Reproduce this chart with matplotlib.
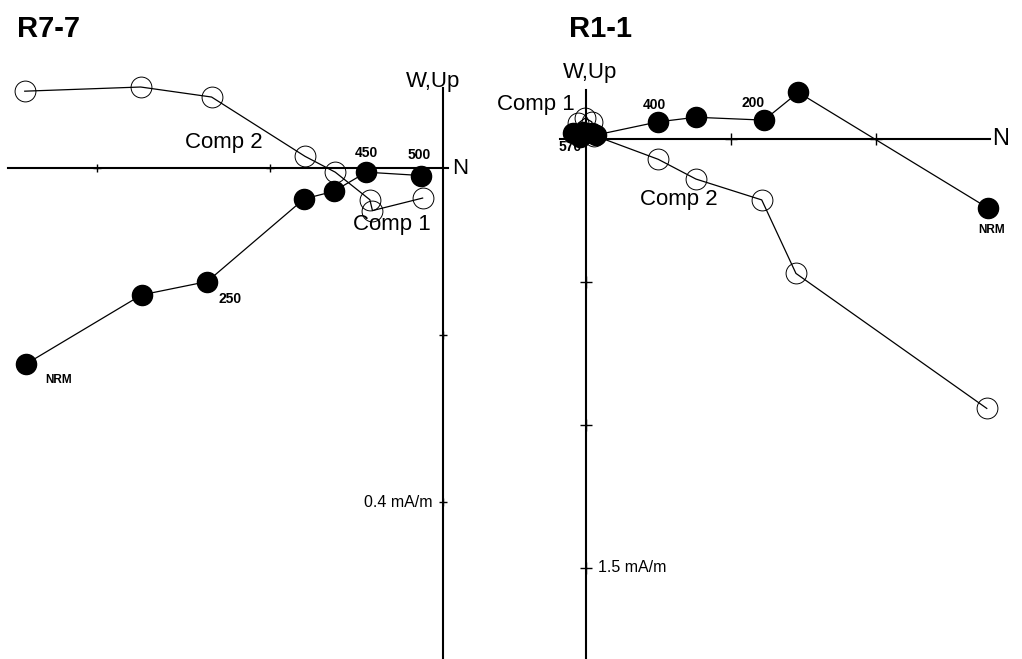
import matplotlib.pyplot as plt

plt.rcParams['font.family'] = ['Liberation Sans', 'DejaVu Sans']

# R7-7: orthogonal projections (mA/m), N on x, W / Up on y
r77_horiz_n = [-0.482, -0.348, -0.272, -0.160, -0.126, -0.088, -0.025]
r77_horiz_w = [-0.235, -0.152, -0.136, -0.037, -0.028, -0.005, -0.009]
r77_vert_n = [-0.483, -0.349, -0.267, -0.159, -0.124, -0.084, -0.081, -0.023]
r77_vert_up = [0.092, 0.097, 0.085, 0.014, -0.005, -0.038, -0.051, -0.036]
r77_steps = {0: 'NRM', 2: '250', 5: '450', 6: '500'}

# R1-1
r11_horiz_n = [1.388, 0.733, 0.615, 0.380, 0.250, 0.036, 0.021, -0.008, -0.020, -0.043]
r11_horiz_w = [-0.242, 0.163, 0.066, 0.076, 0.060, 0.014, 0.020, 0.026, 0.007, 0.020]
r11_vert_n = [1.383, 0.725, 0.607, 0.380, 0.250, 0.030, 0.021, -0.002, -0.026]
r11_vert_up = [-0.942, -0.470, -0.213, -0.140, -0.071, 0.012, 0.060, 0.073, 0.055]
r11_steps = {0: 'NRM', 2: '200', 4: '400'}

fig = plt.figure(figsize=(10.22, 6.59), dpi=100)
W, H = 1022, 659
ax1 = fig.add_axes([0, 0, 490 / W, 1])
ax2 = fig.add_axes([490 / W, 0, 532 / W, 1])

ax1.set_xlim(-0.5116, 0.0549)
ax1.set_ylim(-0.5880, 0.2012)
ax2.set_xlim(-0.330, 1.5045)
ax2.set_ylim(-1.8182, 0.4860)

for ax in (ax1, ax2):
    ax.axis('off')


def zplot(ax, hn, hw, vn, vu, ms):
    ax.plot(vn, vu, '-', color='black', lw=0.9, zorder=2)
    ax.plot(hn, hw, '-', color='black', lw=0.9, zorder=2)
    ax.plot(vn, vu, 'o', ms=ms + 0.5, mfc='none', mec='black', mew=0.7, zorder=3)
    ax.plot(hn, hw, 'o', ms=ms, mfc='black', mec='black', zorder=4)


# axes of the diagrams
ax1.plot([-0.502, 0.0064], [0, 0], color='black', lw=1.5)
ax1.plot([0, 0], [0.0958, -0.59], color='black', lw=1.5)
ax1.plot([-0.2, -0.4, 0, 0], [0, 0, -0.2, -0.4], '+', color='black', ms=6, mew=1)
ax2.plot([-0.0886, 1.3948], [0, 0], color='black', lw=1.5)
ax2.plot([0, 0], [0.171, -1.82], color='black', lw=1.5)
ax2.plot([0.5, 1.0, 0, 0, 0], [0, 0, -0.5, -1.0, -1.5], '+', color='black', ms=8, mew=1)

zplot(ax1, r77_horiz_n, r77_horiz_w, r77_vert_n, r77_vert_up, 14.5)
zplot(ax2, r11_horiz_n, r11_horiz_w, r11_vert_n, r11_vert_up, 14.5)

# step labels next to the filled points
offs1 = {0: (33, -16), 2: (23, -17), 5: (0, 19), 6: (-2, 21)}
for i, lab in r77_steps.items():
    fs = 8.5 if lab == 'NRM' else 10
    ax1.annotate(lab, (r77_horiz_n[i], r77_horiz_w[i]), xytext=offs1[i],
                 textcoords='offset pixels', ha='center', va='center',
                 fontsize=fs, fontweight='bold')
offs2 = {0: (3, -22), 2: (-11, 17), 4: (-4, 17)}
for i, lab in r11_steps.items():
    fs = 8.5 if lab == 'NRM' else 10
    ax2.annotate(lab, (r11_horiz_n[i], r11_horiz_w[i]), xytext=offs2[i],
                 textcoords='offset pixels', ha='center', va='center',
                 fontsize=fs, fontweight='bold')
ax2.text(-0.054, -0.027, '570', ha='center', va='center', fontsize=10,
         fontweight='bold', zorder=5)

# component and axis names
ax1.text(-0.2977, 0.030, 'Comp 2', ha='left', va='center', fontsize=16)
ax1.text(-0.1035, -0.068, 'Comp 1', ha='left', va='center', fontsize=16)
ax1.text(-0.011, 0.1034, 'W,Up', ha='center', va='center', fontsize=16)
ax1.text(0.011, 0, 'N', ha='left', va='center', fontsize=16)
ax1.text(-0.011, -0.4, '0.4 mA/m', ha='right', va='center', fontsize=11.5)

ax2.text(-0.306, 0.121, 'Comp 1', ha='left', va='center', fontsize=16)
ax2.text(0.187, -0.213, 'Comp 2', ha='left', va='center', fontsize=16)
ax2.text(0.015, 0.2325, 'W,Up', ha='center', va='center', fontsize=16)
ax2.text(1.401, 0, 'N', ha='left', va='center', fontsize=17)
ax2.text(0.042, -1.5, '1.5 mA/m', ha='left', va='center', fontsize=11.5)

fig.text(17 / W, 1 - 37 / H, 'R7-7', ha='left', va='baseline', fontsize=21, fontweight='bold')
fig.text(569 / W, 1 - 37 / H, 'R1-1', ha='left', va='baseline', fontsize=21, fontweight='bold')

plt.savefig('out.png', dpi=100)
